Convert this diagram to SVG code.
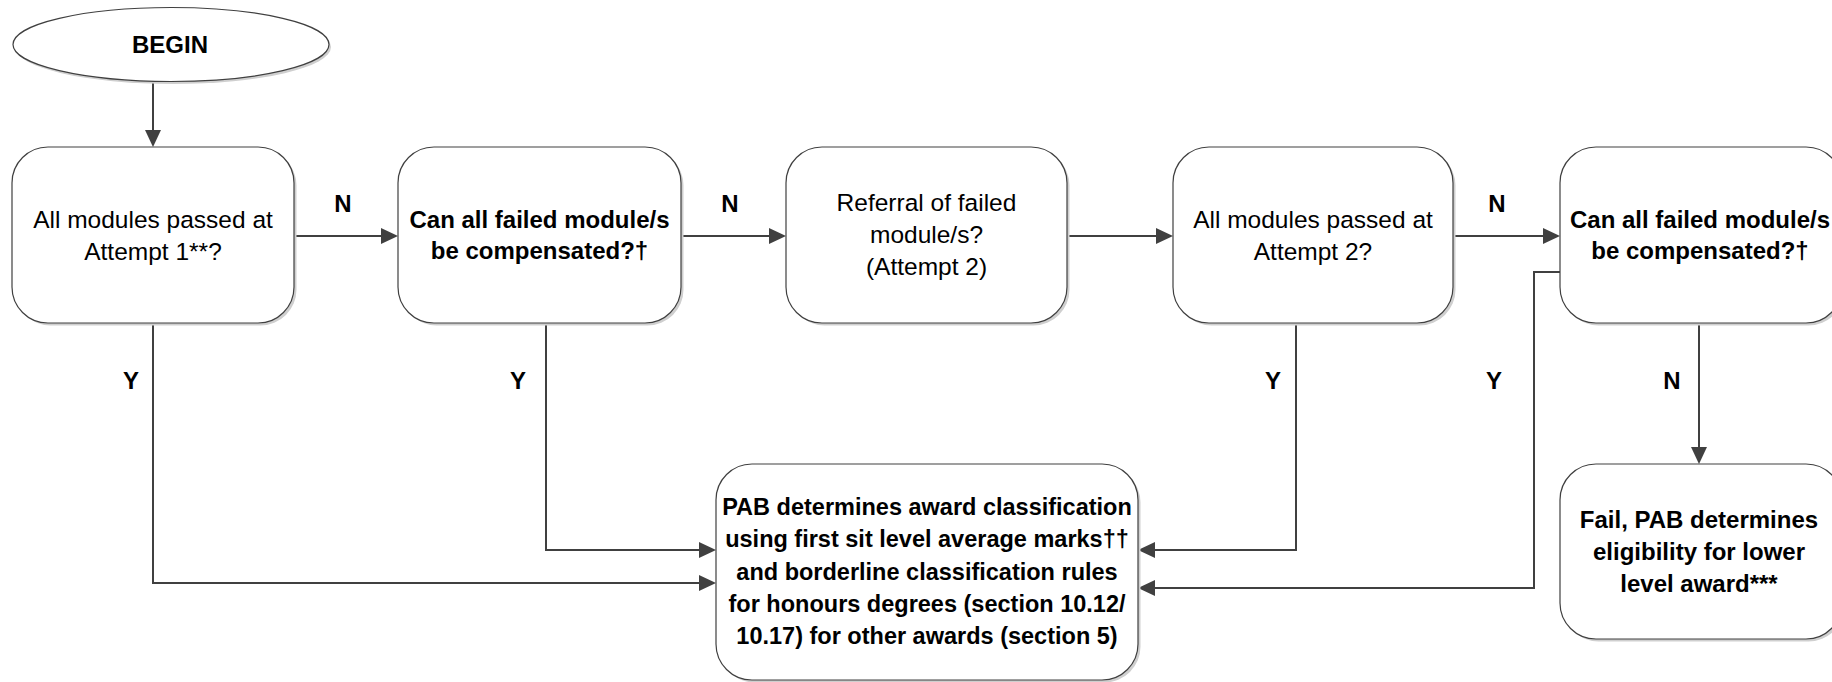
<svg xmlns="http://www.w3.org/2000/svg" width="1832" height="682" viewBox="0 0 1832 682">
<defs>
<style>
.box{fill:#ffffff;stroke:#404040;stroke-width:1.2}
.shd{fill:#cfcfcf}
.t{font-family:"Liberation Sans",Arial,sans-serif;font-size:24.5px;fill:#000;text-anchor:middle}
.b{font-weight:bold;font-size:24px}
.lbl{font-family:"Liberation Sans",Arial,sans-serif;font-size:24px;font-weight:bold;fill:#000;text-anchor:middle}
.con{fill:none;stroke:#404040;stroke-width:2}
</style>
<marker id="arr" viewBox="0 0 17 16" refX="9" refY="8" markerWidth="17" markerHeight="16" markerUnits="userSpaceOnUse" orient="auto">
<path d="M0,0 L17,8 L0,16 z" fill="#404040"/>
</marker>
</defs>
<rect width="1832" height="682" fill="#ffffff"/>

<g id="connectors">
<path class="con" d="M153,81 V139" marker-end="url(#arr)"/>
<path class="con" d="M294,236 H390" marker-end="url(#arr)"/>
<path class="con" d="M681,236 H778" marker-end="url(#arr)"/>
<path class="con" d="M1067,236 H1165" marker-end="url(#arr)"/>
<path class="con" d="M1453,236 H1552" marker-end="url(#arr)"/>
<path class="con" d="M153,323 V583 H708" marker-end="url(#arr)"/>
<path class="con" d="M546,323 V550 H708" marker-end="url(#arr)"/>
<path class="con" d="M1296,323 V550 H1146" marker-end="url(#arr)"/>
<path class="con" d="M1560,272 H1534 V588 H1146" marker-end="url(#arr)"/>
<path class="con" d="M1699,323 V456" marker-end="url(#arr)"/>
<text class="lbl" x="343" y="212">N</text>
<text class="lbl" x="730" y="212">N</text>
<text class="lbl" x="1497" y="212">N</text>
<text class="lbl" x="131" y="389">Y</text>
<text class="lbl" x="518" y="389">Y</text>
<text class="lbl" x="1273" y="389">Y</text>
<text class="lbl" x="1494" y="389">Y</text>
<text class="lbl" x="1672" y="389">N</text>
</g>

<g id="begin">
<ellipse cx="173" cy="47" rx="158" ry="37" class="shd"/>
<ellipse cx="171" cy="44.5" rx="158" ry="37" class="box"/>
<text class="t b" x="170" y="53">BEGIN</text>
</g>

<g id="attempt1">
<rect x="14.5" y="149.5" width="282" height="176" rx="36" class="shd"/>
<rect x="12" y="147" width="282" height="176" rx="36" class="box"/>
<text class="t" x="153" y="228">All modules passed at</text>
<text class="t" x="153" y="260">Attempt 1**?</text>
</g>

<g id="compensate1">
<rect x="400.5" y="149.5" width="283" height="176" rx="36" class="shd"/>
<rect x="398" y="147" width="283" height="176" rx="36" class="box"/>
<text class="t b" x="539.5" y="228">Can all failed module/s</text>
<text class="t b" x="539.5" y="259">be compensated?†</text>
</g>

<g id="referral">
<rect x="788.5" y="149.5" width="281" height="176" rx="36" class="shd"/>
<rect x="786" y="147" width="281" height="176" rx="36" class="box"/>
<text class="t" x="926.5" y="211">Referral of failed</text>
<text class="t" x="926.5" y="243">module/s?</text>
<text class="t" x="926.5" y="275">(Attempt 2)</text>
</g>

<g id="attempt2">
<rect x="1175.5" y="149.5" width="280" height="176" rx="36" class="shd"/>
<rect x="1173" y="147" width="280" height="176" rx="36" class="box"/>
<text class="t" x="1313" y="228">All modules passed at</text>
<text class="t" x="1313" y="260">Attempt 2?</text>
</g>

<g id="compensate2">
<rect x="1562.5" y="149.5" width="282" height="176" rx="36" class="shd"/>
<rect x="1560" y="147" width="282" height="176" rx="36" class="box"/>
<text class="t b" x="1700" y="228">Can all failed module/s</text>
<text class="t b" x="1700" y="259">be compensated?†</text>
</g>

<g id="classification">
<rect x="718.5" y="466.5" width="422" height="216" rx="36" class="shd"/>
<rect x="716" y="464" width="422" height="216" rx="36" class="box"/>
<text class="t b" x="927" y="515" style="font-size:23.5px">PAB determines award classification</text>
<text class="t b" x="927" y="547" style="font-size:23.5px">using first sit level average marks††</text>
<text class="t b" x="927" y="580" style="font-size:23.5px">and borderline classification rules</text>
<text class="t b" x="927" y="612" style="font-size:23.5px">for honours degrees (section 10.12/</text>
<text class="t b" x="927" y="644" style="font-size:23.5px">10.17) for other awards (section 5)</text>
</g>

<g id="fail">
<rect x="1562.5" y="466.5" width="282" height="175" rx="36" class="shd"/>
<rect x="1560" y="464" width="282" height="175" rx="36" class="box"/>
<text class="t b" x="1699" y="528">Fail, PAB determines</text>
<text class="t b" x="1699" y="560">eligibility for lower</text>
<text class="t b" x="1699" y="592">level award***</text>
</g>
</svg>
